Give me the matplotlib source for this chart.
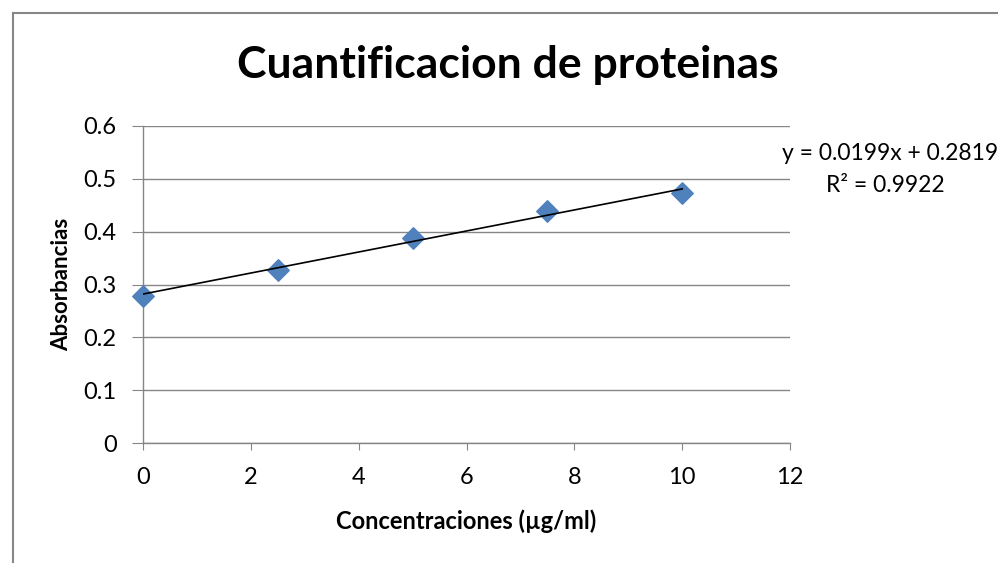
import matplotlib
matplotlib.use("Agg")
import matplotlib.pyplot as plt
import numpy as np

conc = [0, 2.5, 5, 7.5, 10]
absorb = [0.279, 0.328, 0.388, 0.440, 0.473]
xticks = [0, 2, 4, 6, 8, 10, 12]
yticks = [0, 0.1, 0.2, 0.3, 0.4, 0.5, 0.6]
ytick_labels = ["0", "0.1", "0.2", "0.3", "0.4", "0.5", "0.6"]
slope, intercept, r2 = 0.0199, 0.2819, 0.9922

plt.rcParams['font.family'] = ['Lato', 'DejaVu Sans']
fig = plt.figure(figsize=(9.98, 5.63), dpi=100)
ax = fig.add_axes([143/998, 1-443/563, (790-143)/998, (443-126)/563])

# outer chart border
fig.add_artist(plt.Line2D([13/998, 13/998], [0, 1-13/563], transform=fig.transFigure, color='#878787', lw=1.5))
fig.add_artist(plt.Line2D([13/998, 1], [1-13/563, 1-13/563], transform=fig.transFigure, color='#878787', lw=1.5))

ax.set_xlim(0, 12)
ax.set_ylim(0, 0.6)
ax.set_xticks(xticks)
ax.set_xticklabels([str(t) for t in xticks])
ax.set_yticks(yticks)
ax.set_yticklabels(ytick_labels)
ax.grid(axis='y', color='#868686', lw=1)
ax.set_axisbelow(True)
for s in ['top', 'right']:
    ax.spines[s].set_visible(False)
for s in ['left', 'bottom']:
    ax.spines[s].set_color('#868686')
    ax.spines[s].set_linewidth(1)
ax.tick_params(axis='y', direction='out', length=8, color='#868686', labelsize=17, pad=11)
ax.tick_params(axis='x', direction='out', length=5, color='#868686', labelsize=17, pad=12)

ax.scatter(conc, absorb, marker='D', s=120, color='#4F81BD', zorder=3, clip_on=False)
xs = np.array([conc[0], conc[-1]])
ax.plot(xs, slope*xs + intercept, color='black', lw=1.2, zorder=4)

ax.set_xlabel('Concentraciones (µg/ml)', fontsize=17, fontweight='bold', labelpad=16)
ax.set_ylabel('Absorbancias', fontsize=16, fontweight='bold', labelpad=8)
fig.text(508/998, 1-65/563, 'Cuantificacion de proteinas', fontsize=32, fontweight='bold', ha='center', va='center')

fig.text(998/998, 1-154/563, f'y = {slope}x + {intercept}', fontsize=16.5, ha='right', va='center')
fig.text(885/998, 1-185/563, f'R² = {r2}', fontsize=16.5, ha='center', va='center')

fig.savefig('out.png', dpi=100)
